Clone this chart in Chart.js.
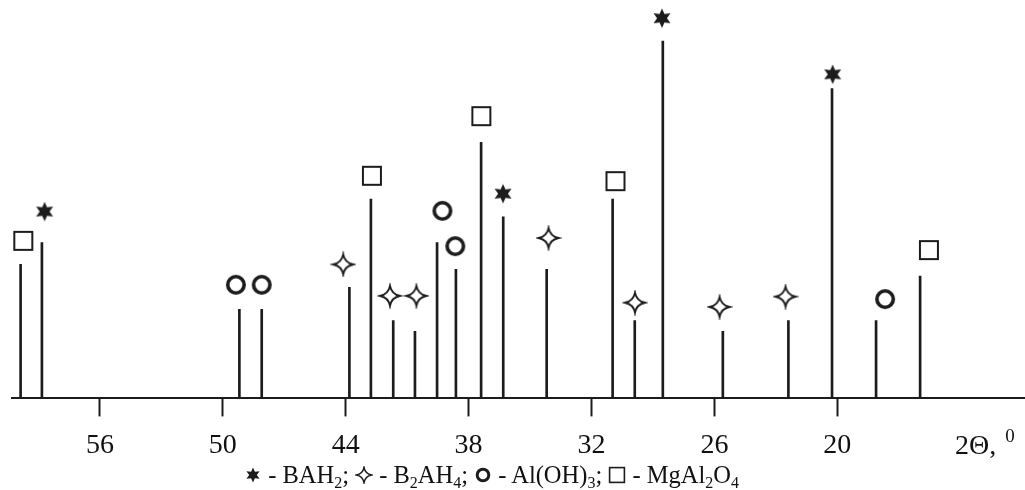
<!DOCTYPE html>
<html><head><meta charset="utf-8">
<script src="https://cdn.jsdelivr.net/npm/chart.js@4.4.0/dist/chart.umd.min.js"></script>
<style>
html,body{margin:0;padding:0;background:#fff;}
#wrap{position:relative;width:1025px;height:490px;overflow:hidden;background:#fff;}
#c{position:absolute;left:0;top:0;}
.txt{position:absolute;font-family:"Liberation Serif","Times New Roman",serif;color:#111;white-space:nowrap;}
#axlbl{left:955px;top:431px;font-size:28px;line-height:28px;}
#axlbl .sup{font-size:19px;position:relative;top:-12px;margin-left:2px;}
#legend{left:244px;top:462px;font-size:24.5px;line-height:26px;}
#legend .sub{font-size:16px;position:relative;top:5px;}
#legend canvas{vertical-align:-1px;}
</style></head>
<body><div id="wrap"><canvas id="c" width="1025" height="490"></canvas>
<div id="axlbl" class="txt"></div><div id="legend" class="txt"></div></div>
<script>
// ---- data (2Θ in degrees, relative intensity) ----
const tickValues = [56, 50, 44, 38, 32, 26, 20];
const axisTitle = '2Θ, ';
const axisTitleSup = '0';
const peakPos = [59.87, 58.83, 49.19, 48.10, 43.82, 42.77, 41.68, 40.62, 39.54, 38.62, 37.39,
                 36.31, 34.19, 30.97, 29.89, 28.52, 25.59, 22.39, 20.26, 18.11, 15.96];
const peakInt = [37.5, 43.6, 24.9, 24.9, 31.1, 55.8, 21.8, 18.8, 43.6, 36.1, 71.7,
                 50.8, 36.1, 55.8, 21.8, 100, 18.8, 21.8, 86.7, 21.8, 34.2];
// phase marker positions
const bahX = [58.70, 36.32, 28.56, 20.23];
const bahY = [52.3, 57.3, 106.4, 90.7];
const b2ahX = [44.12, 41.84, 40.55, 34.10, 29.88, 25.75, 22.53];
const b2ahY = [37.5, 28.7, 28.7, 44.9, 26.8, 25.6, 28.5];
const alohX = [49.36, 48.10, 39.28, 38.65, 17.67];
const alohY = [31.8, 31.8, 52.5, 42.6, 27.8];
const mgalX = [59.74, 42.72, 37.38, 30.83, 15.53];
const mgalY = [44.1, 62.3, 79.0, 60.8, 41.5];
const phaseNames = ['BAH<span class="sub">2</span>', 'B<span class="sub">2</span>AH<span class="sub">4</span>',
                    'Al(OH)<span class="sub">3</span>', 'MgAl<span class="sub">2</span>O<span class="sub">4</span>'];

const INK = '#1c1c1c';

function mk(size, fn){
  const c = document.createElement('canvas');
  c.width = size; c.height = size;
  const ctx = c.getContext('2d');
  ctx.translate(size/2, size/2);
  ctx.strokeStyle = INK; ctx.fillStyle = INK;
  fn(ctx);
  return c;
}
function star6(r){ return ctx => {
  ctx.beginPath();
  for (let i = 0; i < 12; i++) {
    const a = -Math.PI/2 + i*Math.PI/6;
    const rr = i % 2 === 0 ? r : r*0.5;
    const x = rr*Math.cos(a), y = rr*Math.sin(a);
    i === 0 ? ctx.moveTo(x, y) : ctx.lineTo(x, y);
  }
  ctx.closePath(); ctx.fill();
};}
function star4(r, lw){ return ctx => {
  const c = r*0.16;
  ctx.lineWidth = lw;
  ctx.beginPath();
  ctx.moveTo(0, -r);
  ctx.quadraticCurveTo(c, -c, r, 0);
  ctx.quadraticCurveTo(c, c, 0, r);
  ctx.quadraticCurveTo(-c, c, -r, 0);
  ctx.quadraticCurveTo(-c, -c, 0, -r);
  ctx.closePath(); ctx.stroke();
};}
function circ(r, lw){ return ctx => {
  ctx.lineWidth = lw;
  ctx.beginPath(); ctx.arc(0, 0, r, 0, Math.PI*2); ctx.stroke();
};}
function sq(h, lw){ return ctx => {
  ctx.lineWidth = lw;
  ctx.strokeRect(-h, -h, 2*h, 2*h);
};}

const imgBAH = mk(26, star6(9.8));
const imgB2AH = mk(26, star4(10, 1.8));
const imgAlOH = mk(26, circ(8.2, 3.6));
const imgMgAl = mk(26, sq(9, 2));

function pts(xs, ys){ return xs.map((x, i) => ({x: x, y: ys[i]})); }
function markerSet(label, xs, ys, img){
  return {type: 'scatter', label: label, data: pts(xs, ys), pointStyle: img,
          pointRadius: 10, clip: false, showLine: false};
}

new Chart(document.getElementById('c'), {
  type: 'bar',
  data: {
    datasets: [
      {type: 'bar', label: 'peaks', data: pts(peakPos, peakInt), backgroundColor: INK,
       barThickness: 2, borderWidth: 0, grouped: false},
      markerSet('BAH2', bahX, bahY, imgBAH),
      markerSet('B2AH4', b2ahX, b2ahY, imgB2AH),
      markerSet('Al(OH)3', alohX, alohY, imgAlOH),
      markerSet('MgAl2O4', mgalX, mgalY, imgMgAl)
    ]
  },
  options: {
    responsive: false,
    animation: false,
    events: [],
    layout: {autoPadding: false, padding: {left: 12, right: 0, top: 0, bottom: 16}},
    plugins: {legend: {display: false}, tooltip: {enabled: false}},
    scales: {
      x: {
        type: 'linear', reverse: true, min: 10.84, max: 60.29, offset: false,
        afterBuildTicks: s => { s.ticks = tickValues.map(v => ({value: v})); },
        grid: {offset: false, drawOnChartArea: false, drawTicks: true, tickLength: 18, tickColor: INK, tickWidth: 2},
        border: {display: true, color: INK, width: 2},
        ticks: {color: '#111', padding: 12, maxRotation: 0, autoSkip: false,
                font: {family: '"Liberation Serif", "Times New Roman", serif', size: 28}}
      },
      y: {display: false, min: 0, max: 111.5}
    }
  }
});

// axis title
document.getElementById('axlbl').innerHTML = axisTitle + '<span class="sup">' + axisTitleSup + '</span>';
// legend
const legImgs = [mk(18, star6(7.6)), mk(18, star4(7.6, 1.5)), mk(18, circ(5.8, 3)), mk(18, sq(7.4, 1.6))];
const leg = document.getElementById('legend');
phaseNames.forEach((n, i) => {
  leg.appendChild(legImgs[i]);
  const s = document.createElement('span');
  s.innerHTML = ' - ' + n + (i < phaseNames.length - 1 ? '; ' : '');
  leg.appendChild(s);
});
</script>
</body></html>
